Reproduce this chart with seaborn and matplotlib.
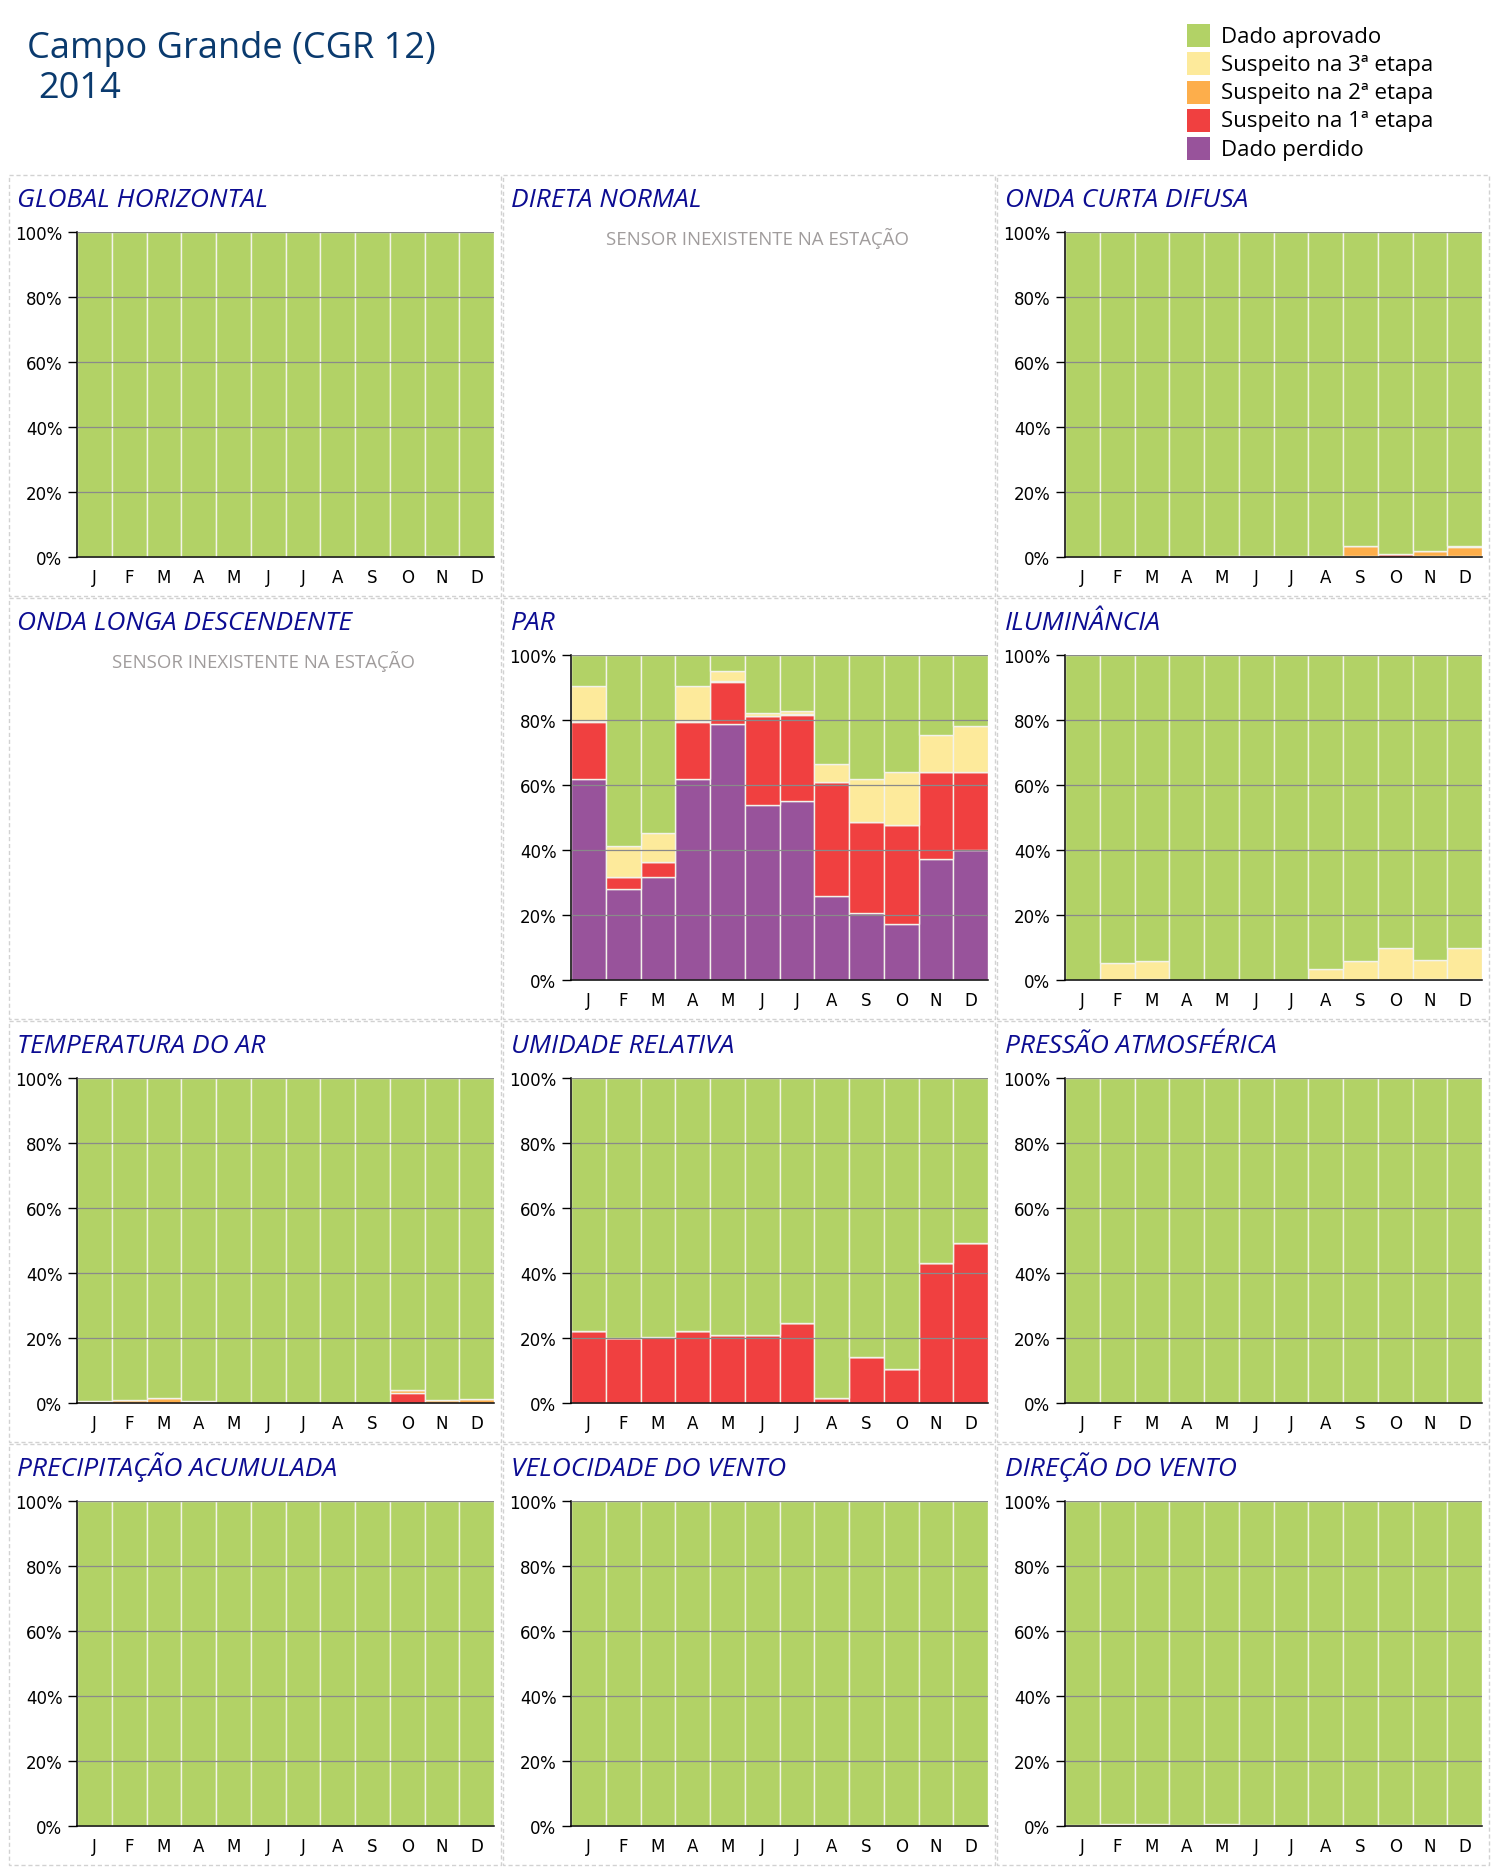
import numpy as np
import pandas as pd
import matplotlib
matplotlib.use("Agg")
import matplotlib.pyplot as plt
from matplotlib.patches import Rectangle
import seaborn as sns

# ------------------------------------------------------------
# Data: % of records per month, by quality-control status
# ------------------------------------------------------------
months = ['J', 'F', 'M', 'A', 'M', 'J', 'J', 'A', 'S', 'O', 'N', 'D']
status_labels = ['Dado aprovado', 'Suspeito na 3ª etapa', 'Suspeito na 2ª etapa',
                 'Suspeito na 1ª etapa', 'Dado perdido']
status_colors = ['#b2d266', '#fdea9b', '#fdae4b', '#f04040', '#98539b']

zeros = [0, 0, 0, 0, 0, 0, 0, 0, 0, 0, 0, 0]
all_ok = [100, 100, 100, 100, 100, 100, 100, 100, 100, 100, 100, 100]

global_aprov = [100, 100, 100, 100, 100, 100, 100, 100, 99.9, 99.9, 99.6, 99.9]
global_e2 = [0, 0, 0, 0, 0, 0, 0, 0, 0.1, 0.1, 0.4, 0.1]

difusa_aprov = [100, 100, 100, 100, 99.7, 99.7, 99.7, 99.7, 96.7, 99.2, 98.0, 96.6]
difusa_e3 = [0, 0, 0, 0, 0, 0, 0, 0, 0, 0, 0, 0.4]
difusa_e2 = [0, 0, 0, 0, 0, 0, 0, 0, 3.0, 0, 1.7, 2.7]
difusa_e1 = [0, 0, 0, 0, 0.3, 0.3, 0.3, 0.3, 0.3, 0.8, 0.3, 0.3]

par_aprov = [9.5, 58.8, 54.7, 9.5, 4.8, 17.7, 17.1, 33.5, 38.0, 36.0, 24.6, 21.8]
par_e3 = [10.7, 9.5, 8.9, 10.7, 3.2, 1.0, 1.1, 5.6, 13.4, 16.2, 11.4, 14.2]
par_e2 = [0.3, 0, 0, 0.3, 0.3, 0, 0.3, 0, 0, 0, 0, 0]
par_e1 = [17.5, 3.6, 4.6, 17.5, 12.8, 27.3, 26.3, 35.0, 27.9, 30.5, 26.7, 24.0]
par_perdido = [62.0, 28.1, 31.8, 62.0, 78.9, 54.0, 55.2, 25.9, 20.7, 17.3, 37.3, 40.0]

ilum_aprov = [100, 94.8, 94.2, 100, 100, 100, 100, 96.7, 94.2, 90.2, 93.9, 90.2]
ilum_e3 = [0, 5.2, 5.5, 0, 0, 0, 0, 3.3, 5.8, 9.8, 5.8, 9.5]
ilum_e2 = [0, 0, 0.3, 0, 0, 0, 0, 0, 0, 0, 0.3, 0.3]

temp_aprov = [99.3, 99.1, 98.5, 99.3, 100, 100, 100, 100, 100, 96.0, 99.0, 98.8]
temp_e2 = [0.7, 0.9, 1.5, 0.7, 0, 0, 0, 0, 0, 1.0, 1.0, 1.2]
temp_e1 = [0, 0, 0, 0, 0, 0, 0, 0, 0, 3.0, 0, 0]

umid_aprov = [77.7, 80.1, 79.6, 77.7, 79.0, 79.0, 75.3, 98.4, 85.7, 89.4, 56.8, 50.7]
umid_e1 = [22.3, 19.9, 20.4, 22.3, 21.0, 21.0, 24.7, 1.6, 14.3, 10.6, 43.2, 49.3]

dir_aprov = [99.7, 99.4, 99.4, 99.7, 99.4, 99.7, 100, 100, 100, 99.7, 99.7, 99.7]
dir_e1 = [0.3, 0.6, 0.6, 0.3, 0.6, 0.3, 0, 0, 0, 0.3, 0.3, 0.3]

# (title, [aprovado, 3a, 2a, 1a, perdido]) ; None = sensor missing
panels = [
    ('GLOBAL HORIZONTAL', [global_aprov, zeros, global_e2, zeros, zeros]),
    ('DIRETA NORMAL', None),
    ('ONDA CURTA DIFUSA', [difusa_aprov, difusa_e3, difusa_e2, difusa_e1, zeros]),
    ('ONDA LONGA DESCENDENTE', None),
    ('PAR', [par_aprov, par_e3, par_e2, par_e1, par_perdido]),
    ('ILUMINÂNCIA', [ilum_aprov, ilum_e3, ilum_e2, zeros, zeros]),
    ('TEMPERATURA DO AR', [temp_aprov, zeros, temp_e2, temp_e1, zeros]),
    ('UMIDADE RELATIVA', [umid_aprov, zeros, zeros, umid_e1, zeros]),
    ('PRESSÃO ATMOSFÉRICA', [all_ok, zeros, zeros, zeros, zeros]),
    ('PRECIPITAÇÃO ACUMULADA', [all_ok, zeros, zeros, zeros, zeros]),
    ('VELOCIDADE DO VENTO', [all_ok, zeros, zeros, zeros, zeros]),
    ('DIREÇÃO DO VENTO', [dir_aprov, zeros, zeros, dir_e1, zeros]),
]

# ------------------------------------------------------------
# Layout (pixel units of a 1500 x 1874 canvas)
# ------------------------------------------------------------
W, H = 1500, 1874
box_left = [9, 503, 997]
box_top = [176, 599, 1022, 1445]
box_w, box_h = 492, 421
ax_dx, ax_dy = 68, 57          # axes offset inside a panel box
ax_w, ax_h = 417, 325

sns.set_style("white")
plt.rcParams['font.family'] = ['DejaVu Sans']
ui_font = ['Open Sans', 'DejaVu Sans']

fig = plt.figure(figsize=(W / 100, H / 100), dpi=100)

# overlay in pixel coordinates for header, legend and panel frames
bg = fig.add_axes([0, 0, 1, 1])
bg.set_xlim(0, W)
bg.set_ylim(H, 0)
bg.axis('off')

bg.text(27, 58, 'Campo Grande (CGR 12)', fontsize=26, color='#0a3a6e',
        family=ui_font, va='baseline')
bg.text(38, 98, '2014', fontsize=26, color='#0a3a6e', family=ui_font, va='baseline')

for i, (lab, col) in enumerate(zip(status_labels, status_colors)):
    top = 25 + i * 28.3
    bg.add_patch(Rectangle((1187, top), 23, 23, facecolor=col, edgecolor='none'))
    bg.text(1221, top + 12, lab, fontsize=16, family=ui_font, va='center', color='black')


def draw_panel(ax, series):
    df = pd.DataFrame({
        'mes': np.tile(np.arange(12), len(status_labels)),
        'status': np.repeat(status_labels, 12),
        'pct': np.concatenate(series),
    })
    sns.histplot(data=df, x='mes', weights='pct', hue='status',
                 hue_order=status_labels, palette=status_colors,
                 multiple='stack', discrete=True, shrink=1, alpha=1,
                 edgecolor='#f3f3ea', linewidth=1.0, legend=False, ax=ax)
    ax.set_xlim(-0.5, 11.5)
    ax.set_ylim(0, 100)
    ax.set_xlabel('')
    ax.set_ylabel('')

    ax.set_xticks(np.arange(-0.5, 12, 1))
    ax.set_xticklabels([])
    ax.set_xticks(np.arange(12), minor=True)
    ax.set_xticklabels(months, minor=True, fontsize=12)
    ax.tick_params(axis='x', which='major', length=7.5, width=1, color='black')
    ax.tick_params(axis='x', which='minor', length=0, pad=8, labelcolor='black')

    ax.set_yticks([0, 20, 40, 60, 80, 100])
    ax.set_yticklabels([f'{v}%' for v in [0, 20, 40, 60, 80, 100]], fontsize=12)
    ax.tick_params(axis='y', length=6.5, width=1, pad=4, color='black',
                   labelcolor='black', left=True)

    ax.set_axisbelow(False)
    ax.yaxis.grid(True, color='#8a8a8a', linewidth=0.9)
    ax.xaxis.grid(False)
    for side in ['top', 'right']:
        ax.spines[side].set_visible(False)
    for side in ['left', 'bottom']:
        ax.spines[side].set_color('black')
        ax.spines[side].set_linewidth(1.1)


for k, (title, series) in enumerate(panels):
    r, c = divmod(k, 3)
    x0, y0 = box_left[c], box_top[r]
    bg.add_patch(Rectangle((x0, y0), box_w, box_h, fill=False,
                           edgecolor='#d2d2d2', linewidth=1, linestyle=(0, (3, 2))))
    bg.text(x0 + 8, y0 + 31, title, fontsize=19, style='italic', color='#0c0c92',
            family=ui_font, va='baseline')
    if series is None:
        bg.text(x0 + 255, y0 + 62, 'SENSOR INEXISTENTE NA ESTAÇÃO', fontsize=13.4,
                color='#a09c9c', family=ui_font, ha='center', va='center')
        continue
    ax = fig.add_axes([(x0 + ax_dx) / W, 1 - (y0 + ax_dy + ax_h) / H,
                       ax_w / W, ax_h / H])
    draw_panel(ax, series)

fig.savefig('out.png', dpi=100)
